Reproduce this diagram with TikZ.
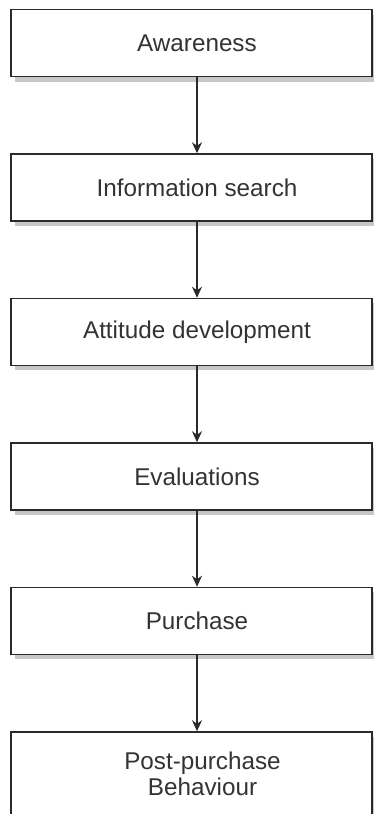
\documentclass[tikz,border=0pt]{standalone}
\usepackage{fontspec}
\setmainfont{Liberation Sans}
\usetikzlibrary{shapes,arrows.meta,positioning,shadows}

\definecolor{stagetext}{HTML}{333333}
\definecolor{stageline}{HTML}{2A2A2A}

\begin{document}
\begin{tikzpicture}[
    node distance=1.52cm,
    stage/.style={rectangle, draw=stageline, line width=0.85pt, fill=white, text=stagetext,
        minimum width=7.22cm, minimum height=1.34cm, align=center,
        font=\fontsize{13.8}{14.8}\selectfont,
        execute at begin node=\hspace*{0.22cm},
        drop shadow={shadow xshift=0.08cm, shadow yshift=-0.1cm, fill=black!22, opacity=1}},
    arrow/.style={-{Stealth[length=2.2mm,width=2mm]}, draw=stageline, line width=0.85pt}
]
    \useasboundingbox (0,0) rectangle (7.48,-16.28);
    \clip (0,0) rectangle (7.48,-16.28);

    \node[stage] (aware) at (3.83,-0.86) {Awareness};
    \node[stage, below=of aware] (search) {Information search};
    \node[stage, below=of search] (attitude) {Attitude development};
    \node[stage, below=of attitude] (evals) {Evaluations};
    \node[stage, below=of evals] (purchase) {Purchase};
    \node[stage, below=of purchase, minimum height=1.68cm, execute at begin node={}] (post)
        {\hspace*{0.22cm}Post-purchase\\\hspace*{0.22cm}Behaviour};

    \draw[arrow] ([xshift=0.11cm]aware.south) -- ([xshift=0.11cm]search.north);
    \draw[arrow] ([xshift=0.11cm]search.south) -- ([xshift=0.11cm]attitude.north);
    \draw[arrow] ([xshift=0.11cm]attitude.south) -- ([xshift=0.11cm]evals.north);
    \draw[arrow] ([xshift=0.11cm]evals.south) -- ([xshift=0.11cm]purchase.north);
    \draw[arrow] ([xshift=0.11cm]purchase.south) -- ([xshift=0.11cm]post.north);
\end{tikzpicture}
\end{document}
